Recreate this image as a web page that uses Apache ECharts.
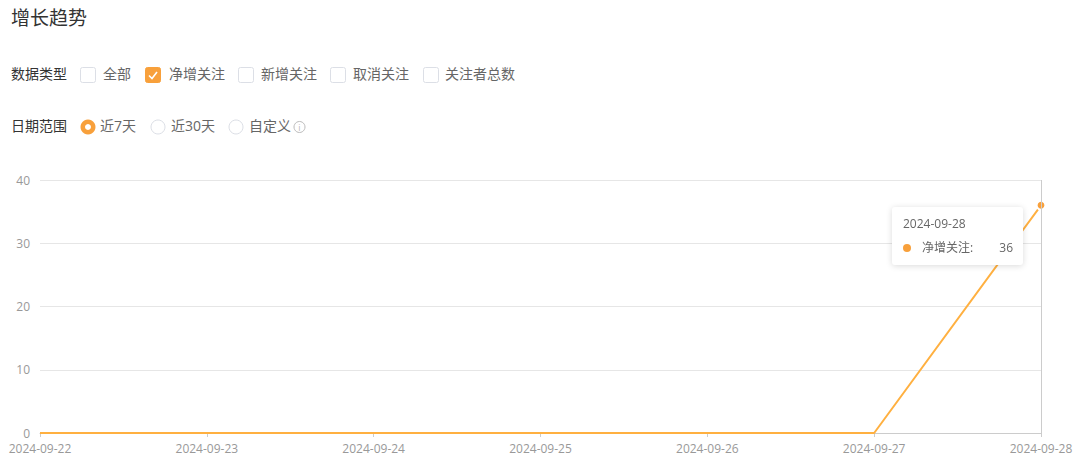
<!DOCTYPE html>
<html>
<head>
<meta charset="utf-8">
<script src="https://cdn.jsdelivr.net/npm/echarts@6/dist/echarts.min.js"></script>
<style>
html,body{margin:0;padding:0;background:#fff;}
#c{width:1080px;height:474px;}
</style>
</head>
<body>
<div id="c"></div>
<script>
var pageTitle = '增长趋势';
var dataTypeLabel = '数据类型';
var dataTypes = ['全部', '净增关注', '新增关注', '取消关注', '关注者总数'];
var dataTypeChecked = [false, true, false, false, false];
var rangeLabel = '日期范围';
var ranges = ['近7天', '近30天', '自定义'];
var rangeSelected = 0;
var dates = ['2024-09-22', '2024-09-23', '2024-09-24', '2024-09-25', '2024-09-26', '2024-09-27', '2024-09-28'];
var seriesName = '净增关注';
var netFollow = [0, 0, 0, 0, 0, 0, 36];

var ORANGE = '#F8A03B';
var FONT = '"Open Sans","Noto Sans CJK SC",sans-serif';

var chart = echarts.init(document.getElementById('c'), null, {renderer: 'svg'});

var graphics = [];
graphics.push({type:'text', left: 11, top: 8, style:{text: pageTitle, fill:'#333', font: '19px ' + FONT}});
graphics.push({type:'text', left: 11, top: 66, style:{text: dataTypeLabel, fill:'#333', font: '14px ' + FONT}});
graphics.push({type:'text', left: 11, top: 118, style:{text: rangeLabel, fill:'#333', font: '14px ' + FONT}});

var boxX = [80, 145, 238, 330, 423];
var textX = [103, 169, 261, 353, 445];
dataTypes.forEach(function(t, i){
  var checked = dataTypeChecked[i];
  graphics.push({type:'rect', shape:{x: boxX[i]+0.5, y: 67.5, width: 15, height: 15, r: 2},
    style:{fill: checked ? ORANGE : '#fff', stroke: checked ? ORANGE : '#dcdfe6', lineWidth: 1}});
  if (checked) {
    graphics.push({type:'polyline', shape:{points:[[boxX[i]+4, 75.5],[boxX[i]+7, 78.5],[boxX[i]+12, 72]]},
      style:{stroke:'#fff', lineWidth: 1.6, fill: null}});
  }
  graphics.push({type:'text', left: textX[i], top: 66, style:{text: t, fill:'#666', font: '14px ' + FONT}});
});

var radioCx = [88, 158, 236];
var radioTx = [100, 171, 249];
ranges.forEach(function(t, i){
  var sel = i === rangeSelected;
  if (sel) {
    graphics.push({type:'circle', shape:{cx: radioCx[i], cy: 127, r: 7.5}, style:{fill: ORANGE}});
    graphics.push({type:'circle', shape:{cx: radioCx[i], cy: 127, r: 3}, style:{fill: '#fff'}});
  } else {
    graphics.push({type:'circle', shape:{cx: radioCx[i], cy: 127, r: 7}, style:{fill:'#fff', stroke:'#dcdfe6', lineWidth: 1}});
  }
  graphics.push({type:'text', left: radioTx[i], top: 118, style:{text: t, fill: '#666', font: '14px ' + FONT}});
});
// info icon
graphics.push({type:'circle', shape:{cx: 299.5, cy: 127, r: 5.5}, style:{fill:'none', stroke:'#bbb', lineWidth: 1}});
graphics.push({type:'text', x: 299.5, y: 127, style:{text: 'i', fill:'#bbb', font: '9px ' + FONT, align:'center', verticalAlign:'middle'}});

chart.setOption({
  animation: false,
  textStyle: {fontFamily: FONT},
  graphic: graphics,
  grid: {left: 40, right: 39, top: 180, bottom: 41, containLabel: false},
  tooltip: {
    trigger: 'axis',
    alwaysShowContent: true,
    transitionDuration: 0,
    position: [892, 207],
    backgroundColor: '#fff',
    borderWidth: 0,
    padding: [8, 10, 8, 11],
    extraCssText: 'box-shadow:0 1px 6px rgba(0,0,0,0.15);border-radius:3px;width:110px;',
    axisPointer: {type: 'line', lineStyle: {color: '#ccc', width: 1, type: 'solid'}},
    formatter: function(params){
      var p = params[0];
      return '<div style="font:12px ' + FONT.replace(/"/g, "'") + ';color:#666;line-height:18px;">' + p.name + '</div>' +
        '<div style="font:12px ' + FONT.replace(/"/g, "'") + ';color:#666;line-height:18px;margin-top:6px;display:flex;align-items:center;">' +
        '<span style="display:inline-block;width:8px;height:8px;border-radius:4px;background:' + ORANGE + ';margin-right:11px;"></span>' +
        '<span style="flex:1;">' + p.seriesName + ':</span><span>' + p.value + '</span></div>';
    }
  },
  xAxis: {
    type: 'category',
    data: dates,
    boundaryGap: false,
    axisLine: {lineStyle: {color: '#ccc'}},
    axisTick: {show: true, alignWithLabel: true, length: 4, lineStyle: {color: '#ccc'}},
    axisLabel: {color: '#999', fontSize: 12, lineHeight: 12, margin: 9}
  },
  yAxis: {
    type: 'value',
    min: 0, max: 40, interval: 10,
    axisLine: {show: false},
    axisTick: {show: false},
    axisLabel: {color: '#999', fontSize: 12, lineHeight: 12, margin: 10, padding: [0, 0, 3, 0]},
    splitLine: {lineStyle: {color: '#e6e6e6'}}
  },
  series: [{
    name: seriesName,
    type: 'line',
    data: netFollow,
    showSymbol: false,
    symbol: 'circle',
    symbolSize: 8,
    itemStyle: {color: ORANGE, borderColor: '#fff', borderWidth: 2},
    lineStyle: {color: ORANGE, width: 2}
  }]
});

chart.dispatchAction({type: 'showTip', seriesIndex: 0, dataIndex: 6});
</script>
</body>
</html>
